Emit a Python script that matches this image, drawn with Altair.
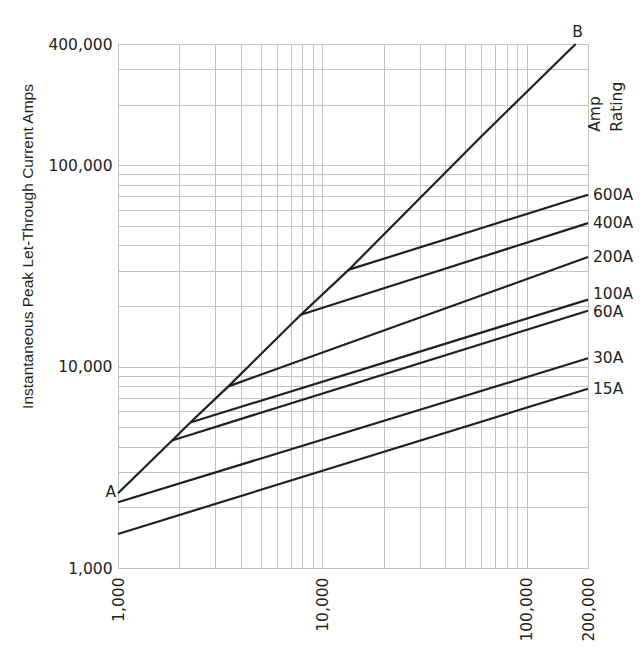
import altair as alt
import pandas as pd

# ---- data ----
ab_x = [1000, 1840, 2260, 3470, 7850, 13500, 60000, 174000]
ab_y = [2350, 4300, 5280, 7980, 18100, 30300, 139000, 400000]

ratings = ["600A", "400A", "200A", "100A", "60A", "30A", "15A"]
start_x = [13500, 7850, 3470, 2260, 1840, 1000, 1000]
start_y = [30300, 18100, 7980, 5280, 4300, 2120, 1475]
end_x = 200000
end_y = [71400, 51600, 35000, 21500, 18950, 11000, 7770]

x_labels = [1000, 10000, 100000, 200000]
y_labels = [1000, 10000, 100000, 400000]

x_grid = [m * 10 ** e for e in (3, 4) for m in range(1, 10)] + [100000, 200000]
y_grid = [m * 10 ** e for e in (3, 4) for m in range(1, 10)] + [100000, 200000, 300000, 400000]

FONT = "DejaVu Sans"
TFONT = "Liberation Sans"
INK = "#231f20"
GRID = "#c3c3c5"
FS = 15.5

rows = [{"series": "AB", "x": x, "y": y} for x, y in zip(ab_x, ab_y)]
for r, sx, sy, ey in zip(ratings, start_x, start_y, end_y):
    rows.append({"series": r, "x": sx, "y": sy})
    rows.append({"series": r, "x": end_x, "y": ey})
lines_df = pd.DataFrame(rows)

labels_df = pd.DataFrame({"label": ratings, "x": [end_x] * len(ratings), "y": end_y})
a_df = pd.DataFrame({"label": ["A"], "x": [ab_x[0]], "y": [ab_y[0]]})
b_df = pd.DataFrame({"label": ["B"], "x": [ab_x[-1]], "y": [ab_y[-1]]})
amp_df = pd.DataFrame({"x": [end_x], "y": [141700]})


def expr_for(vals):
    return "indexof([" + ",".join(str(v) for v in vals) + "], datum.value) >= 0 ? format(datum.value, ',') : ''"


xscale = alt.Scale(type="log", domain=[1000, 200000], nice=False)
yscale = alt.Scale(type="log", domain=[1000, 400000], nice=False)

xaxis = alt.Axis(values=x_grid, labelExpr=expr_for(x_labels), labelAngle=-90, labelPadding=9,
                 labelFlush=False, labelOverlap=False, labelBound=False, ticks=False, domain=False,
                 grid=True, gridColor=GRID, gridWidth=1, title=None,
                 labelFont=FONT, labelFontSize=FS, labelColor=INK)
yaxis = alt.Axis(values=y_grid, labelExpr=expr_for(y_labels), labelPadding=6,
                 labelFlush=False, labelOverlap=False, labelBound=False, ticks=False, domain=False,
                 grid=True, gridColor=GRID, gridWidth=1,
                 title="Instantaneous Peak Let-Through Current Amps",
                 titleFont=TFONT, titleFontSize=15.5, titleFontWeight="normal", titleColor=INK,
                 titleAngle=270, titleX=-91, titleY=202, titleAlign="center", titleBaseline="middle",
                 labelFont=FONT, labelFontSize=FS, labelColor=INK)

lines = alt.Chart(lines_df).mark_line(color=INK, strokeWidth=2.2).encode(
    x=alt.X("x:Q", scale=xscale, axis=xaxis),
    y=alt.Y("y:Q", scale=yscale, axis=yaxis),
    detail="series:N",
    order=alt.Order("x:Q"),
)

txt = dict(font=FONT, fontSize=FS, color=INK)

rating_text = alt.Chart(labels_df).mark_text(align="left", baseline="middle", dx=5, **txt).encode(
    x=alt.X("x:Q", scale=xscale), y=alt.Y("y:Q", scale=yscale), text="label:N"
).transform_filter("datum.label != '100A' && datum.label != '60A'")

r100 = alt.Chart(labels_df).mark_text(align="left", baseline="middle", dx=5, dy=-6, **txt).encode(
    x=alt.X("x:Q", scale=xscale), y=alt.Y("y:Q", scale=yscale), text="label:N"
).transform_filter("datum.label == '100A'")

r60 = alt.Chart(labels_df).mark_text(align="left", baseline="middle", dx=5, dy=1, **txt).encode(
    x=alt.X("x:Q", scale=xscale), y=alt.Y("y:Q", scale=yscale), text="label:N"
).transform_filter("datum.label == '60A'")

a_text = alt.Chart(a_df).mark_text(align="right", baseline="middle", dx=-2, dy=-1, **txt).encode(
    x=alt.X("x:Q", scale=xscale), y=alt.Y("y:Q", scale=yscale), text="label:N"
)
b_text = alt.Chart(b_df).mark_text(align="center", baseline="bottom", dx=2, dy=-4, **txt).encode(
    x=alt.X("x:Q", scale=xscale), y=alt.Y("y:Q", scale=yscale), text="label:N"
)
amp_text = alt.Chart(amp_df).mark_text(align="left", baseline="top", angle=270, dx=3,
                                       lineHeight=22, **txt).encode(
    x=alt.X("x:Q", scale=xscale), y=alt.Y("y:Q", scale=yscale),
    text=alt.value(["Amp", "Rating"]),
)

chart = alt.layer(lines, rating_text, r100, r60, a_text, b_text, amp_text).properties(
    width=470, height=524,
    autosize=alt.AutoSizeParams(type="none"),
    padding={"left": 110, "top": 36, "right": 48, "bottom": 78},
).configure_view(stroke="#b0b0b2", strokeWidth=1.5).configure(background="white")

chart.save("out.html", embed_options={"renderer": "svg", "actions": False})
